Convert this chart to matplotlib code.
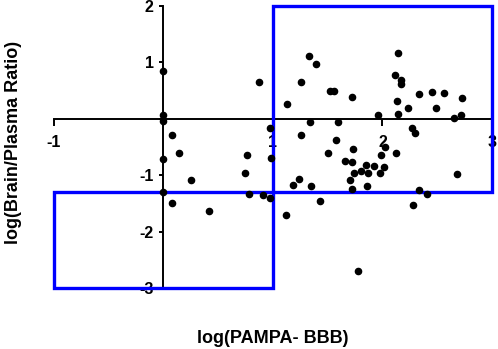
import matplotlib.pyplot as plt
from matplotlib.patches import Rectangle

plt.rcParams['font.family'] = ['Liberation Sans', 'DejaVu Sans']
plt.rcParams['font.weight'] = 'bold'

# log(PAMPA-BBB) and log(Brain/Plasma ratio)
pampa = [0.00, 0.00, 0.00, 0.08, 0.14, 0.00, 0.76, 0.74, 0.97, 0.98,
         0.25, 0.00, 0.78, 0.91, 0.97, 0.08, 0.42, 0.87, 1.13, 1.26,
         1.33, 1.39, 1.52, 1.56, 1.72, 1.96, 2.14, 2.11, 2.17, 2.17,
         2.13, 2.14, 2.23, 2.33, 2.45, 2.56, 2.49, 2.73, 2.65, 2.72,
         1.34, 1.59, 1.26, 1.58, 2.27, 2.30, 1.73, 1.50, 2.02, 1.99,
         2.12, 1.66, 1.72, 1.85, 1.92, 2.01, 1.80, 1.74, 1.87, 1.98,
         2.68, 1.70, 1.24, 1.18, 1.35, 1.72, 1.86, 1.43, 1.12, 1.78,
         2.33, 2.41, 2.28]
brain_plasma = [0.84, 0.07, -0.04, -0.29, -0.61, -0.72, -0.64, -0.96, -0.16, -0.69,
                -1.09, -1.30, -1.34, -1.35, -1.41, -1.49, -1.63, 0.65, 0.27, 0.65,
                1.12, 0.98, 0.49, 0.49, 0.39, 0.06, 1.17, 0.77, 0.68, 0.62,
                0.31, 0.08, 0.19, 0.44, 0.47, 0.45, 0.20, 0.36, 0.02, 0.07,
                -0.06, -0.06, -0.28, -0.37, -0.16, -0.25, -0.54, -0.60, -0.50, -0.65,
                -0.60, -0.74, -0.77, -0.82, -0.84, -0.86, -0.93, -0.96, -0.96, -0.96,
                -0.98, -1.08, -1.07, -1.17, -1.19, -1.25, -1.19, -1.46, -1.70, -2.69,
                -1.26, -1.33, -1.53]

x_ticks = [-1, 0, 1, 2, 3]
y_ticks = [-3, -2, -1, 0, 1, 2]

# the two highlighted regions: (x0, y0, x1, y1)
boxes = [(1, -1.3, 3, 2), (-1, -3, 1, -1.3)]

fig = plt.figure(figsize=(4.98, 3.49), dpi=100)
ax = fig.add_axes([0.1084, 0.1748, 0.8795, 0.808])

ax.scatter(pampa, brain_plasma, s=20, color='black', zorder=4, clip_on=False)

for x0, y0, x1, y1 in boxes:
    ax.add_patch(Rectangle((x0, y0), x1 - x0, y1 - y0, fill=False,
                           edgecolor='#0000ff', linewidth=2.4, zorder=3, clip_on=False))

ax.set_xlim(-1, 3)
ax.set_ylim(-3, 2)

# axes cross at the origin
ax.spines['left'].set_position(('data', 0))
ax.spines['bottom'].set_position(('data', 0))
ax.spines['right'].set_visible(False)
ax.spines['top'].set_visible(False)
for side in ['left', 'bottom']:
    ax.spines[side].set_linewidth(1.4)

ax.set_xticks(x_ticks)
ax.set_yticks(y_ticks)
ax.set_xticklabels([str(t) for t in x_ticks])
ax.set_yticklabels([str(t) if t != 0 else '' for t in y_ticks])
ax.tick_params(axis='x', direction='out', length=5, width=1.4, pad=7, labelsize=11.5)
ax.tick_params(axis='y', direction='out', length=3, width=1.4, pad=4, labelsize=11.5)
for lbl in ax.get_xticklabels() + ax.get_yticklabels():
    lbl.set_fontweight('bold')
ax.get_xticklabels()[1].set_visible(False)

fig.text(0.548, 0.03, 'log(PAMPA- BBB)', ha='center', va='center',
         fontsize=13, fontweight='bold')
fig.text(0.028, 0.593, 'log(Brain/Plasma Ratio)', ha='center', va='center',
         rotation=90, fontsize=13, fontweight='bold')

fig.savefig('out.png', dpi=100)
